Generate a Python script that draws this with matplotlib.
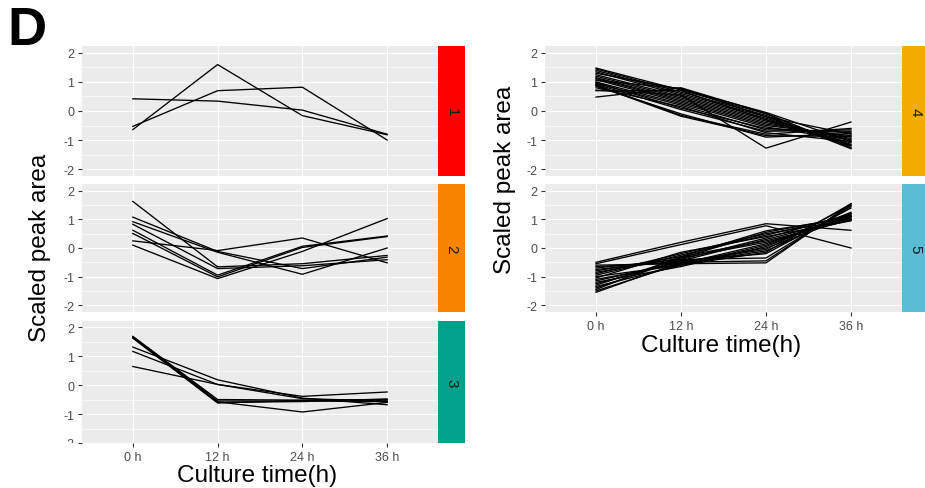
import matplotlib
matplotlib.use("Agg")
import matplotlib.pyplot as plt
from matplotlib.patches import Rectangle
from matplotlib.transforms import Bbox, TransformedBbox

plt.rcParams['font.family'] = ['Liberation Sans', 'DejaVu Sans']

times = ["0 h", "12 h", "24 h", "36 h"]

# scaled peak area per compound, one row per line (0 h, 12 h, 24 h, 36 h)
cluster1 = [
    [-0.64, 1.60, -0.16, -0.82],
    [-0.53, 0.70, 0.82, -1.00],
    [0.42, 0.34, 0.03, -0.80],
]
cluster2 = [
    [0.25, -0.09, 0.35, -0.52],
    [1.08, -0.12, -0.72, -0.32],
    [0.92, -0.15, -0.92, 0.00],
    [1.63, -0.66, -0.55, -0.26],
    [0.83, -0.72, -0.62, -0.41],
    [0.62, -0.95, 0.06, 0.42],
    [0.51, -1.01, 0.02, 0.40],
    [0.10, -1.07, -0.12, 1.03],
]
cluster3 = [
    [1.31, 0.18, -0.45, -0.68],
    [1.16, 0.02, -0.39, -0.24],
    [0.64, 0.02, -0.47, -0.55],
    [1.68, -0.50, -0.52, -0.50],
    [1.66, -0.55, -0.55, -0.55],
    [1.65, -0.58, -0.93, -0.60],
    [1.63, -0.60, -0.57, -0.48],
    [1.62, -0.62, -0.53, -0.58],
]
cluster4 = [
    [1.48, 0.72, -0.10, -1.25],
    [1.45, 0.65, -0.15, -1.30],
    [1.40, 0.60, -0.20, -1.20],
    [1.35, 0.55, -0.25, -1.15],
    [1.30, 0.75, -0.05, -1.05],
    [1.25, 0.50, -0.30, -1.10],
    [1.20, 0.45, -0.35, -1.00],
    [1.15, 0.40, -0.40, -0.95],
    [1.12, 0.35, -0.45, -0.90],
    [1.08, 0.30, -0.50, -0.85],
    [1.05, 0.78, -0.20, -0.80],
    [1.00, 0.25, -0.55, -1.00],
    [0.98, 0.10, -0.60, -0.75],
    [0.95, 0.20, -0.65, -0.70],
    [0.92, 0.05, -0.70, -0.65],
    [0.90, -0.15, -0.80, -0.60],
    [0.88, -0.18, -0.85, -0.88],
    [0.85, -0.10, -0.90, -0.78],
    [0.80, 0.15, -0.75, -1.05],
    [0.72, 0.55, -1.28, -0.38],
    [0.70, 0.70, -0.30, -1.18],
    [0.48, 0.80, -0.08, -1.28],
]
cluster5 = [
    [-0.50, 0.20, 0.85, 0.62],
    [-0.55, 0.12, 0.78, 0.00],
    [-0.60, -0.55, -0.52, 1.55],
    [-0.65, -0.50, -0.45, 1.50],
    [-0.70, -0.40, -0.35, 1.45],
    [-0.75, -0.45, -0.20, 1.40],
    [-0.80, -0.30, 0.60, 1.05],
    [-0.85, -0.35, 0.55, 1.10],
    [-0.90, -0.20, 0.50, 1.00],
    [-0.95, -0.25, 0.45, 1.15],
    [-1.00, -0.60, -0.15, 1.55],
    [-1.05, -0.15, 0.40, 0.95],
    [-1.10, -0.55, -0.10, 1.20],
    [-1.15, -0.50, 0.00, 1.10],
    [-1.20, -0.65, 0.05, 1.25],
    [-1.25, -0.45, 0.30, 1.05],
    [-1.30, -0.35, 0.20, 1.00],
    [-1.35, -0.60, 0.10, 1.15],
    [-1.40, -0.40, 0.35, 1.20],
    [-1.45, -0.30, 0.25, 0.98],
    [-1.50, -0.55, 0.15, 1.10],
    [-1.55, -0.50, -0.05, 1.50],
]
cluster_ids = ["1", "2", "3", "4", "5"]
strip_colors = ["#FF0000", "#F98400", "#00A08A", "#F2AD00", "#5BBCD6"]

W, H = 925, 489
fig = plt.figure(figsize=(W / 100, H / 100), dpi=100)


def box(x0, y0, x1, y1):
    # pixel box (top-left origin) -> figure fraction rect
    return [x0 / W, 1 - y1 / H, (x1 - x0) / W, (y1 - y0) / H]


def panel(rect, strip_rect, data, label, color, ylim=(-2.24, 2.24), show_x=False):
    ax = fig.add_axes(rect)
    ax.set_facecolor("#EBEBEB")
    for s in ax.spines.values():
        s.set_visible(False)
    ax.set_xlim(-0.6, 3.6)
    ax.set_ylim(*ylim)
    ax.set_yticks([-2, -1, 0, 1, 2])
    ax.set_yticks([-1.5, -0.5, 0.5, 1.5], minor=True)
    ax.set_xticks(range(len(times)))
    ax.grid(which="major", color="white", lw=0.9)
    ax.grid(which="minor", axis="y", color="white", lw=0.45)
    ax.set_axisbelow(True)
    ax.tick_params(axis="both", which="major", colors="#333333", length=3,
                   width=0.8, labelsize=9, labelcolor="#4D4D4D", pad=2.5)
    ax.tick_params(which="minor", length=0)
    ax.set_yticklabels(["-2", "-1", "0", "1", "2"])
    if show_x:
        ax.set_xticklabels(times)
    else:
        ax.tick_params(axis="x", length=0, labelbottom=False)
    for row in data:
        ax.plot(range(len(times)), row, color="black", lw=0.95)
    sax = fig.add_axes(strip_rect)
    sax.set_axis_off()
    sax.add_patch(Rectangle((0, 0), 1, 1, color=color, transform=sax.transAxes))
    sax.text(0.5, 0.5, label, rotation=-90, ha="center", va="center",
             fontsize=11, color="#1A1A1A", transform=sax.transAxes)
    return ax


# left facet column
panel(box(82, 47, 438, 177), box(438, 47, 465, 177), cluster1, cluster_ids[0], strip_colors[0])
panel(box(82, 185, 438, 313), box(438, 185, 465, 313), cluster2, cluster_ids[1], strip_colors[1])
ax3 = panel(box(82, 322, 438, 444), box(438, 322, 465, 444), cluster3, cluster_ids[2],
            strip_colors[2], ylim=(-1.97, 2.21), show_x=True)

# right facet column
panel(box(545, 47, 902, 177), box(902, 47, 929, 177), cluster4, cluster_ids[3], strip_colors[3])
panel(box(545, 185, 902, 313), box(902, 185, 929, 313), cluster5, cluster_ids[4],
      strip_colors[4], show_x=True)

# bottom panel is cut off at its lower edge, tick label included
clip = TransformedBbox(Bbox.from_extents(0, 1 - 444 / H, 1, 1), fig.transFigure)
for lab in ax3.get_yticklabels():
    lab.set_clip_on(True)
    lab.set_clip_box(clip)

fig.text(40 / W, 1 - 248 / H, "Scaled peak area", rotation=90, ha="center",
         va="center", fontsize=17.5)
fig.text(505 / W, 1 - 180 / H, "Scaled peak area", rotation=90, ha="center",
         va="center", fontsize=17.5)
fig.text(257 / W, 1 - 476 / H, "Culture time(h)", ha="center", va="center", fontsize=17.5)
fig.text(721 / W, 1 - 346 / H, "Culture time(h)", ha="center", va="center", fontsize=17.5)
fig.text(7 / W, 1 - 31 / H, "D", ha="left", va="center", fontsize=39, fontweight="bold")

fig.savefig("out.png", dpi=100)
